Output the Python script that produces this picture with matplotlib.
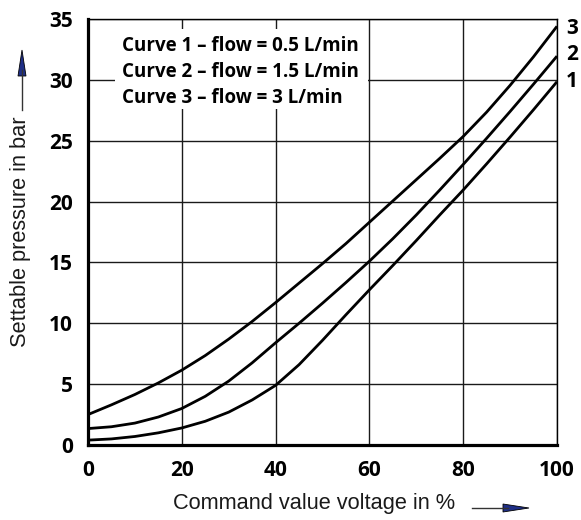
import matplotlib
matplotlib.use("Agg")
import matplotlib.pyplot as plt
from matplotlib.patches import Rectangle, Polygon
from matplotlib.lines import Line2D

# command value voltage in %
voltage = [0, 5, 10, 15, 20, 25, 30, 35, 40, 45, 50, 55, 60, 65, 70, 75, 80, 85, 90, 95, 100]

# settable pressure in bar
curve1 = [0.4, 0.5, 0.7, 1.0, 1.4, 1.95, 2.7, 3.7, 4.9, 6.6, 8.6, 10.7, 12.75, 14.75, 16.8, 18.9, 20.95, 23.1, 25.3, 27.55, 29.85]
curve2 = [1.35, 1.5, 1.8, 2.3, 3.0, 4.0, 5.25, 6.75, 8.4, 10.0, 11.65, 13.35, 15.1, 16.95, 18.9, 20.95, 23.05, 25.2, 27.4, 29.65, 31.95]
curve3 = [2.5, 3.3, 4.15, 5.1, 6.15, 7.35, 8.7, 10.15, 11.7, 13.3, 14.9, 16.55, 18.3, 20.05, 21.8, 23.55, 25.35, 27.35, 29.55, 31.9, 34.4]

curve_names = ['1', '2', '3']
name_y = [29.85, 32.1, 34.25]
legend_lines = ['Curve 1 – flow = 0.5 L/min',
                'Curve 2 – flow = 1.5 L/min',
                'Curve 3 – flow = 3 L/min']

x_ticks = [0, 20, 40, 60, 80, 100]
y_ticks = [0, 5, 10, 15, 20, 25, 30, 35]

W, H = 581, 520
labelfont = ['Liberation Sans', 'DejaVu Sans']
tickfont = ['Open Sans', 'DejaVu Sans']

fig = plt.figure(figsize=(W / 100, H / 100), dpi=100)
ax = fig.add_axes([88 / W, 1 - 445 / H, (557 - 88) / W, (445 - 19) / H])

ax.set_xlim(0, 100)
ax.set_ylim(0, 35)
ax.set_xticks(x_ticks)
ax.set_yticks(y_ticks)
ax.grid(True, color='#1a1a1a', lw=1.0, zorder=1)
ax.set_axisbelow(True)
ax.tick_params(length=0, pad=11, labelsize=15)
for lab in ax.get_xticklabels() + ax.get_yticklabels():
    lab.set_fontweight('bold')
    lab.set_family(tickfont)

for s in ['left', 'bottom']:
    ax.spines[s].set_linewidth(2.3)
for s in ['top', 'right']:
    ax.spines[s].set_linewidth(1.0)

for c in [curve1, curve2, curve3]:
    ax.plot(voltage, c, color='black', lw=2.0, zorder=3, solid_capstyle='butt')

# white box that hides the grid behind the legend text
ax.add_patch(Rectangle((5.8, 27.6), 53.9, 6.6, facecolor='white', edgecolor='none', zorder=2))
for i, t in enumerate(legend_lines):
    ax.text(7.3, 32.75 - i * 2.1, t, fontsize=13.5, fontweight='bold', family=tickfont,
            va='center', ha='left', zorder=4)

for n, yy in zip(curve_names, name_y):
    ax.text(1.032, yy, n, transform=ax.get_yaxis_transform(), fontsize=15,
            fontweight='bold', family=tickfont, va='center', ha='center')

fig.text(314 / W, 1 - 503 / H, 'Command value voltage in %', fontsize=15.7,
         family=labelfont, ha='center', va='center', color='#1a1a1a')
fig.text(21 / W, 1 - 232 / H, 'Settable pressure in bar', fontsize=15.7,
         family=labelfont, ha='center', va='center', rotation=90, color='#1a1a1a')


def px(x, y):
    return (x / W, 1 - y / H)


# arrow next to the y label
fig.add_artist(Line2D([px(22, 110)[0], px(22, 70)[0]], [px(22, 110)[1], px(22, 70)[1]],
                      transform=fig.transFigure, color='#333333', lw=1.0))
fig.add_artist(Polygon([px(22, 50), px(18, 76), px(26, 76)], closed=True,
                       transform=fig.transFigure, facecolor='#1f2f86', edgecolor='black', lw=0.6))
# arrow next to the x label
fig.add_artist(Line2D([px(472, 508)[0], px(508, 508)[0]], [px(472, 508)[1], px(508, 508)[1]],
                      transform=fig.transFigure, color='#333333', lw=1.0))
fig.add_artist(Polygon([px(529, 508), px(503, 504), px(503, 512)], closed=True,
                       transform=fig.transFigure, facecolor='#1f2f86', edgecolor='black', lw=0.6))

fig.savefig('out.png', dpi=100)
